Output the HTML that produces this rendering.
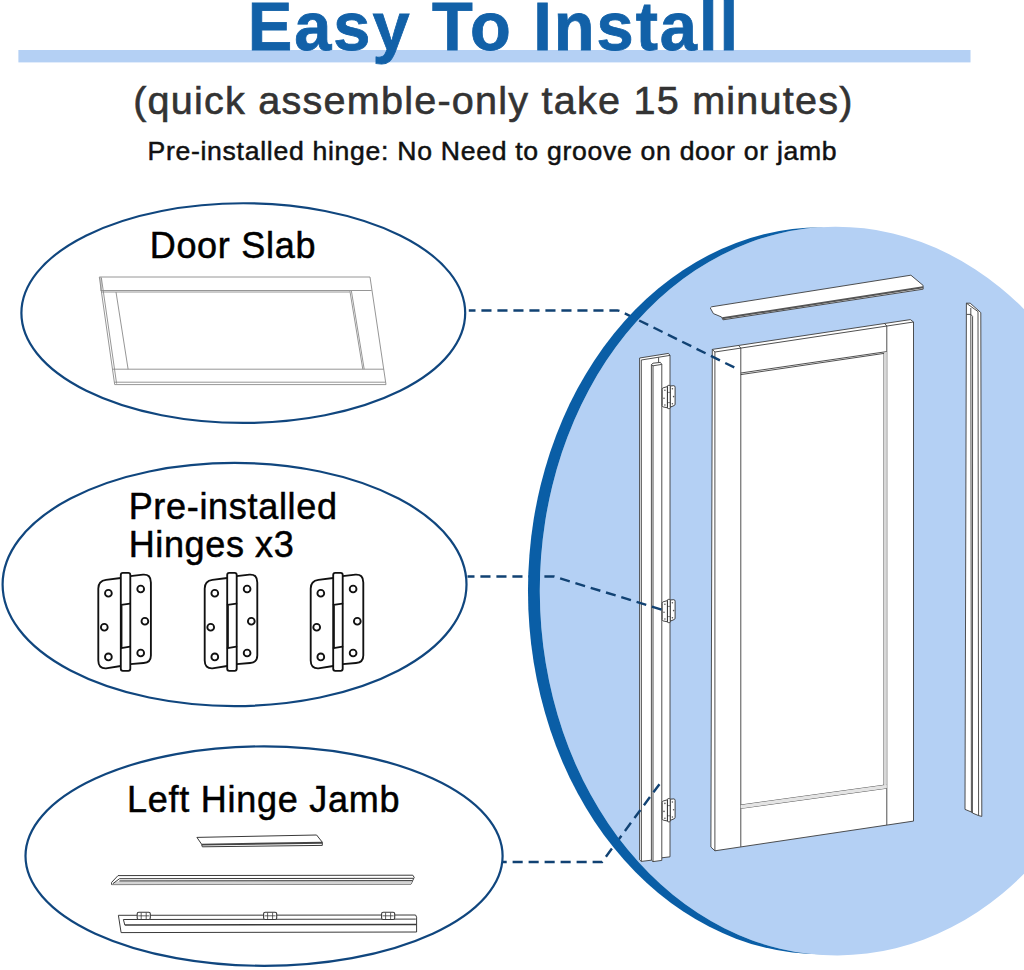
<!DOCTYPE html>
<html lang="en"><head><meta charset="utf-8"><title>Easy To Install</title>
<style>
html,body{margin:0;padding:0;background:#fff}
body{width:1024px;height:970px;overflow:hidden;position:relative}
svg{position:absolute;left:0;top:0;display:block}
text{font-family:"Liberation Sans",Arial,Helvetica,sans-serif}
</style></head><body>
<svg width="1024" height="970" viewBox="0 0 1024 970">
<defs>
<clipPath id="cl"><rect x="0" y="0" width="830" height="970"/></clipPath>
<mask id="mk" maskUnits="userSpaceOnUse" x="0" y="0" width="1024" height="970"><rect x="0" y="0" width="1024" height="970" fill="#fff"/><ellipse cx="836.48" cy="591.1" rx="296.69" ry="364.38" fill="#000" transform="rotate(-0.23 836.48 591.1)"/></mask>
<g id="hg" fill="none" stroke="#111" stroke-width="1.85" stroke-linejoin="round" stroke-linecap="round">
<path d="M120.8 578 L106 579.8 Q98.3 580.8 98.3 588.5 L98.3 660.5 Q98.3 668.6 106 668.3 L120.8 666"/>
<path d="M130.3 576.2 L143 574.6 Q150.9 574 150.9 582.5 L150.9 655.5 Q150.9 662.5 143.6 663 L130.3 664.2"/>
<rect x="120.8" y="572.9" width="9.5" height="97.9" rx="2" ry="2" fill="#fff"/>
<path d="M121.2 604.8 L130 603.6 M121.2 648.2 L130 646.6 M121.5 604.8 L121.5 648"/>
<circle cx="108.4" cy="593.2" r="3.4"/><circle cx="104.3" cy="627.3" r="3.4"/><circle cx="108.4" cy="656.9" r="3.4"/>
<circle cx="140.7" cy="589" r="3.4"/><circle cx="144.9" cy="621.2" r="3.4"/><circle cx="140.7" cy="653" r="3.4"/>
</g>
<g id="sh" stroke="#2e2e2e" stroke-width="0.9" fill="#fff" stroke-linejoin="round">
<path d="M663.2 387.8 L667.4 386.6 L667.4 407.8 L663.2 406.9 Q662.2 406.7 662.2 405.6 L662.2 389.2 Q662.2 388.1 663.2 387.8 Z"/>
<path d="M670.2 386 L673.8 385.7 Q675.1 385.8 675.1 387.2 L675.1 404.2 Q675.1 405.2 674 405.6 L670.2 407.2 Z"/>
<rect x="667.5" y="385.4" width="2.7" height="23.2" rx="0.8"/>
<path d="M667.5 392.4 H670.2 M667.5 402.6 H670.2" stroke-width="0.6"/>
<g fill="#555" stroke="none"><circle cx="664.9" cy="390.2" r="0.8"/><circle cx="664" cy="398.2" r="0.8"/><circle cx="664.9" cy="405" r="0.8"/>
<circle cx="672.4" cy="388.8" r="0.8"/><circle cx="673.6" cy="396.6" r="0.8"/><circle cx="672.4" cy="403.8" r="0.8"/></g>
</g>
</defs>

<rect x="18.4" y="50" width="952.1" height="12.4" fill="#b4d0f4"/>
<text id="t1" transform="translate(247.74 50.0) scale(0.985 1)" font-size="67.8" font-weight="700" fill="#1261a8" stroke="#1261a8" stroke-width="0.8" textLength="497.79" lengthAdjust="spacing">Easy To Install</text>
<text id="t2" transform="translate(133.2 113.9) scale(1.0 1)" font-size="39.6" fill="#333" stroke="#333" stroke-width="0.6" textLength="719.29" lengthAdjust="spacing">(quick assemble-only take 15 minutes)</text>
<text id="t3" transform="translate(147.44 159.8) scale(1.0 1)" font-size="26.6" fill="#111" stroke="#111" stroke-width="0.5" textLength="689.22" lengthAdjust="spacing">Pre-installed hinge: No Need to groove on door or jamb</text>
<ellipse cx="836.48" cy="591.1" rx="296.69" ry="364.38" fill="#b4d0f4" transform="rotate(-0.23 836.48 591.1)"/>
<g fill="none" stroke="#10467e" stroke-width="2.2">
<ellipse cx="243.3" cy="313.1" rx="221.9" ry="109.85"/>
<ellipse cx="234.55" cy="584.5" rx="231.95" ry="121.55"/>
<ellipse cx="264.05" cy="856.1" rx="238.55" ry="109.7"/>
</g>
<text id="t4" transform="translate(149.69 257.8) scale(1.0 1)" font-size="36" fill="#000" stroke="#000" stroke-width="0.5" textLength="165.73" lengthAdjust="spacing">Door Slab</text>
<text id="t5" transform="translate(128.68 519.3) scale(1.0 1)" font-size="36" fill="#000" stroke="#000" stroke-width="0.5" textLength="208.35" lengthAdjust="spacing">Pre-installed</text>
<text id="t6" transform="translate(128.78 557.4) scale(1.0 1)" font-size="36" fill="#000" stroke="#000" stroke-width="0.5" textLength="164.97" lengthAdjust="spacing">Hinges x3</text>
<text id="t7" transform="translate(127.02 812.1) scale(1.0 1)" font-size="36" fill="#000" stroke="#000" stroke-width="0.5" textLength="272.43" lengthAdjust="spacing">Left Hinge Jamb</text>
<g fill="#fff" stroke="#8a8a8a" stroke-width="0.9" stroke-linejoin="round">
<path d="M99.3 277 L370 277 L386 384.6 L114.7 384.6 Z"/>
<path d="M100.6 290.5 L371.6 290.5 M101.2 292 L349.8 292 M112.6 369.2 L383.8 369.2 M114.4 382.2 L385.6 382.2"/>
<path d="M101.4 278 L116.6 383.6 M116 292 L128.1 369.2 M349.9 291 L362.8 369.2 M351.4 291 L364.2 369.2 M101 277 L101 290.5"/>
</g>
<use href="#hg" x="0" y="0"/>
<use href="#hg" x="106.4" y="0"/>
<use href="#hg" x="212.4" y="0"/>
<g fill="#fff" stroke="#3a3a3a" stroke-width="1" stroke-linejoin="round">
<path d="M196.9 837.4 L316.6 835 L322.3 842.2 L322.3 845.4 L202.3 846.8 L201.6 844.2 Z"/>
<path d="M201.8 844.6 L322.3 842.8" stroke-width="1.9" stroke="#444"/>
<path d="M118 875.6 L412.8 875.2 L414.2 877.4 L411 884.2 L111.6 884.6 L111.6 882.4 Z"/>
<path d="M119.4 880.9 L412.4 880.6 L411 884.2 L111.6 884.6 L113.6 882.6 Z" fill="#d4d4d4" stroke="none"/>
<path d="M119.5 878.7 L413.4 878.3 M119.4 880.9 L412.4 880.6 M119.5 878.7 L113 883.6"/>
<path d="M118.4 915.3 L415.6 915 L416.6 917.2 L416.6 932 L121.1 932.6 Z"/>
<path d="M123.4 919.5 L415.8 919.1 M123.4 919.5 L124.8 925"/>
<path d="M124.8 925 L416.4 924.5" stroke-width="1.5"/>
<rect x="137.2" y="912.2" width="13.1" height="7.3" rx="1.6" stroke-width="1.1"/><path d="M138.2 915.8 h11 M141.2 912.6 v6.6 M146.2 912.6 v6.6" stroke-width="0.8"/>
<rect x="263.6" y="912.2" width="13.1" height="7.3" rx="1.6" stroke-width="1.1"/><path d="M264.6 915.8 h11 M267.6 912.6 v6.6 M272.6 912.6 v6.6" stroke-width="0.8"/>
<rect x="381.6" y="912.2" width="13.1" height="7.3" rx="1.6" stroke-width="1.1"/><path d="M382.6 915.8 h11 M385.6 912.6 v6.6 M390.6 912.6 v6.6" stroke-width="0.8"/>
</g>
<g fill="#fff" stroke="#3c3c3c" stroke-width="0.9" stroke-linejoin="round">
<path d="M710.3 308 L711.6 306.8 L910.9 275.2 L923.1 285.4 L923.1 289.2 L723 319.8 L721.6 317 L713.4 313.6 Z"/>
<path d="M722.2 318.3 L923.1 287.3" stroke-width="2" stroke="#555"/>
<path d="M712.3 349.4 L910.4 319.6 L913.5 322 L913.5 821.1 L714.9 850.8 L710.9 847 Z"/>
<path d="M714.9 352 L913.5 322 M714.9 352 L714.9 850.8 M712.3 349.4 L714.9 352"/>
<path d="M740.8 348 L740.8 846.8 M886.8 326 L886.8 825 M738.6 345.6 L740.8 348 M884.6 323.6 L886.8 326"/>
<path d="M740.8 373 L886.8 351.6 M740.8 374.6 L884 353.4 M740.8 805 L886.8 784.8 M740.8 808.4 L886.8 788.2 M884 353.4 L884 785.2"/>
<path d="M884 353.4 L886.8 351.6 L886.8 784.8 L884 785.2 Z" fill="#d8d8d8" stroke="none"/>
<path d="M740.8 805 L886.8 784.8 L886.8 788.2 L740.8 808.4 Z" fill="#e4e4e4" stroke="none"/>
<path d="M639.6 358 L668.5 353.4 L670 355.4 L670 856.8 L661.8 857.8 L661.8 860.4 L653 861.6 L651.4 860.2 L641.4 861.4 L639.6 859.9 Z"/>
<path d="M641.3 360 L670 355.4 M641.3 360 L641.4 861.4 M651.4 364.6 L651.4 860.2 M653 365.8 L653 861.6 M661.8 364.4 L661.8 857.8 M651.4 364.6 L653 363.2 L660.4 362.4 L661.8 364.4 L653 365.8 Z M658.6 357.4 L658.6 362.4"/>
<path d="M966.4 303.2 L970.2 303.2 L980.8 312.6 L981.8 816.4 L978.6 815.6 L972.4 813 L971.4 812 L965 809.4 Z"/>
<path d="M970.8 308 L971.4 812 M972.6 316.4 L972.4 813 M978 311.6 L978.6 815.6 M966.4 303.2 L978 311.6 M966.6 314.4 L970.8 314.4 L972.6 316.4"/>
</g>
<use href="#sh" x="0" y="0"/><use href="#sh" x="0" y="214"/><use href="#sh" x="0" y="413.2"/>
<g fill="none" stroke="#114273" stroke-width="2.4" stroke-dasharray="10.1 5.9">
<path stroke-dashoffset="3.4" d="M468.8 310.5 L617.5 310.5 Q619 310.5 620.4 311.2 L734.4 367.5"/>
<path stroke-dashoffset="3.1" d="M467.5 576.5 L554.1 576.5 L662.2 609.8"/>
<path stroke-dashoffset="6.4" d="M503 862 L602 862 L659.6 784"/>
</g>
<g clip-path="url(#cl)"><ellipse cx="821.08" cy="590.78" rx="293.1" ry="363.5" fill="#0a5ea6" mask="url(#mk)"/></g>
</svg></body></html>
